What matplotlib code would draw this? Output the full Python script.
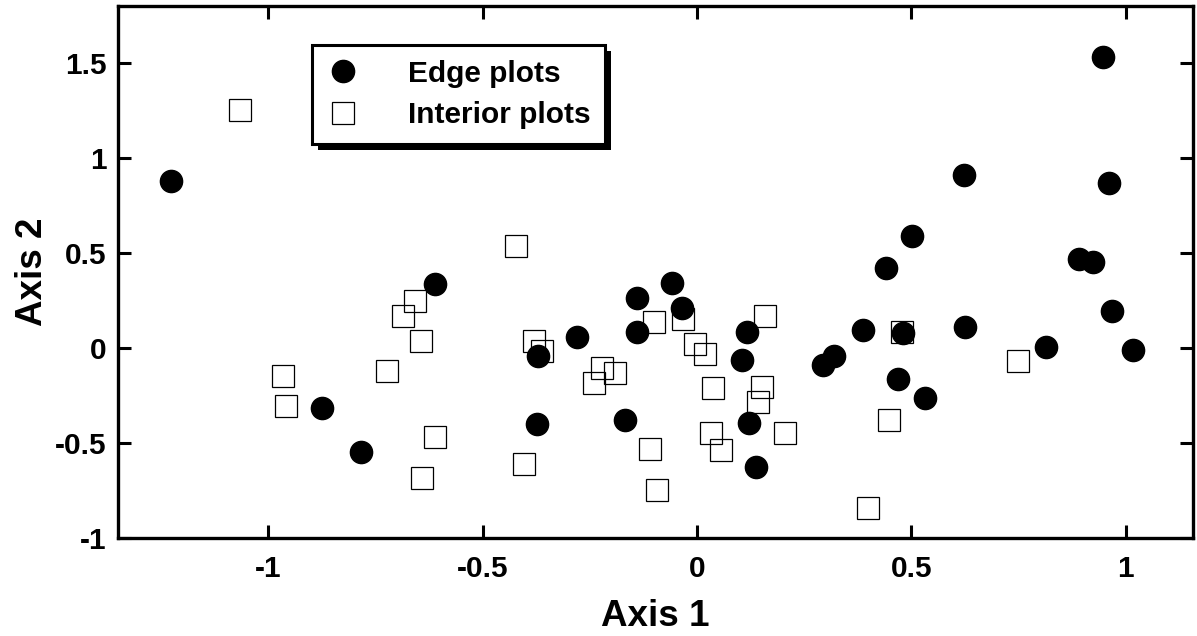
import matplotlib
matplotlib.use('Agg')
import matplotlib.pyplot as plt
from matplotlib.lines import Line2D
from matplotlib.patches import Rectangle

plt.rcParams['font.family'] = ['Liberation Sans', 'DejaVu Sans']
plt.rcParams['font.weight'] = 'bold'

# Edge plots (filled circles)
edge_x = [-1.228, -0.875, -0.784, -0.611, -0.372, -0.373, -0.281, -0.168, -0.141, -0.141,
          -0.058, -0.036, 0.105, 0.117, 0.120, 0.137, 0.293, 0.320, 0.386, 0.441,
          0.468, 0.481, 0.501, 0.532, 0.622, 0.625, 0.814, 0.891, 0.923, 0.947,
          0.960, 0.967, 1.018]
edge_y = [0.879, -0.316, -0.547, 0.337, -0.040, -0.398, 0.060, -0.377, 0.263, 0.084,
          0.340, 0.210, -0.063, 0.086, -0.396, -0.628, -0.091, -0.042, 0.095, 0.421,
          -0.165, 0.077, 0.589, -0.265, 0.911, 0.109, 0.004, 0.470, 0.451, 1.530,
          0.867, 0.193, -0.009]

# Interior plots (open squares)
int_x = [-1.067, -0.965, -0.959, -0.723, -0.685, -0.659, -0.644, -0.643, -0.611, -0.423,
         -0.405, -0.380, -0.363, -0.240, -0.222, -0.191, -0.111, -0.100, -0.094, -0.033,
         -0.004, 0.019, 0.033, 0.036, 0.056, 0.142, 0.152, 0.158, 0.204, 0.399,
         0.448, 0.478, 0.748]
int_y = [1.251, -0.149, -0.307, -0.123, 0.170, 0.246, 0.037, -0.686, -0.470, 0.535,
         -0.609, 0.035, -0.016, -0.184, -0.105, -0.130, -0.533, 0.139, -0.747, 0.151,
         0.019, -0.033, -0.446, -0.209, -0.539, -0.286, -0.204, 0.168, -0.446, -0.842,
         -0.379, 0.084, -0.068]

xticks = [-1, -0.5, 0, 0.5, 1]
yticks = [-1, -0.5, 0, 0.5, 1, 1.5]

fig = plt.figure(figsize=(11.97, 6.36), dpi=100)
ax = fig.add_axes([0.0986, 0.154, 0.8981, 0.8366])

ax.plot(int_x, int_y, 's', ms=15.5, mfc='none', mec='black', mew=0.9, zorder=2)
ax.plot(edge_x, edge_y, 'o', ms=16, color='black', zorder=3)

ax.set_xlim(-1.351, 1.157)
ax.set_ylim(-1.0, 1.8)
ax.set_xticks(xticks)
ax.set_yticks(yticks)
ax.set_xticklabels(['-1', '-0.5', '0', '0.5', '1'])
ax.set_yticklabels(['-1', '-0.5', '0', '0.5', '1', '1.5'])
ax.tick_params(direction='in', length=9.5, width=2.2, labelsize=21.5,
               top=True, right=True)
ax.tick_params(axis='x', pad=12)
ax.tick_params(axis='y', pad=8)
for s in ax.spines.values():
    s.set_linewidth(2.4)

ax.set_xlabel('Axis 1', fontsize=26.5, fontweight='bold', labelpad=12)
ax.set_ylabel('Axis 2', fontsize=26.5, fontweight='bold', labelpad=4)

handles = [Line2D([], [], marker='o', ls='none', ms=16, color='black'),
           Line2D([], [], marker='s', ls='none', ms=15.5, mfc='none', mec='black', mew=0.9)]
leg = ax.legend(handles, ['Edge plots', 'Interior plots'], loc='upper left',
                bbox_to_anchor=(0.1805, 0.9267), fontsize=21.5, frameon=True,
                fancybox=False, framealpha=1, edgecolor='black',
                borderpad=0.5, handlelength=1.1, handletextpad=1.6,
                labelspacing=0.45, borderaxespad=0)
leg.get_frame().set_linewidth(2.2)

# drop shadow under the legend box
fig.canvas.draw()
bb = leg.get_window_extent()
shadow = Rectangle((bb.x0 + 6, bb.y0 - 6), bb.width, bb.height, transform=None,
                   facecolor='black', edgecolor='none', zorder=4.9, clip_on=False)
ax.add_artist(shadow)

fig.savefig('out.png', dpi=100)
